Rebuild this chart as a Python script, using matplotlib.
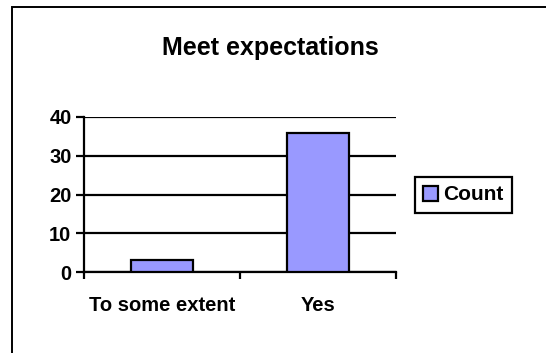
import matplotlib
matplotlib.use('Agg')
import matplotlib.pyplot as plt
from matplotlib.patches import Rectangle

# answers and counts
categories = ['To some extent', 'Yes']
counts = [3, 36]
series_name = 'Count'
chart_title = 'Meet expectations'

plt.rcParams['font.family'] = ['Liberation Sans', 'DejaVu Sans']
plt.rcParams['font.weight'] = 'bold'

fig = plt.figure(figsize=(5.46, 3.53), dpi=100)
ax = fig.add_axes([84/546, 1-272/353, 312/546, 155/353])

# outer chart border, only left and top edges fall inside the image
fig.patches.append(Rectangle((12/546, -0.1), 1.2, 1-7/353+0.1, transform=fig.transFigure,
                             fill=False, edgecolor='black', linewidth=1.4))

x = range(len(categories))
ax.bar(x, counts, width=0.4, color='#9999ff', edgecolor='black', linewidth=1.6,
       label=series_name, zorder=3)

ax.set_xlim(-0.5, 1.5)
ax.set_ylim(0, 40)
ax.set_yticks([0, 10, 20, 30, 40])
ax.set_xticks([-0.5, 0.5, 1.5], minor=False)
ax.set_xticklabels([])
ax.set_xticks(list(x), minor=True)
ax.set_xticklabels(categories, minor=True)
ax.tick_params(axis='x', which='minor', length=0, pad=17, labelsize=14.5)
ax.tick_params(axis='x', which='major', length=5, width=1.6, direction='out')
ax.tick_params(axis='y', length=6, width=1.6, labelsize=14.5, pad=3)

ax.grid(axis='y', color='black', linewidth=1.6, zorder=1)
ax.set_axisbelow(True)
for side in ['top', 'right']:
    ax.spines[side].set_visible(False)
for side in ['left', 'bottom']:
    ax.spines[side].set_linewidth(1.6)

fig.text(270/546, 1-48/353, chart_title, ha='center', va='center',
         fontsize=18, fontweight='bold')

leg = fig.legend(loc='center left', bbox_to_anchor=(415/546, 1-195/353),
                 fancybox=False, edgecolor='black', framealpha=1,
                 handlelength=0.7, handleheight=0.7, handletextpad=0.25,
                 borderpad=0.4, borderaxespad=0, fontsize=15)
leg.get_frame().set_linewidth(1.6)

fig.savefig('out.png', dpi=100)
